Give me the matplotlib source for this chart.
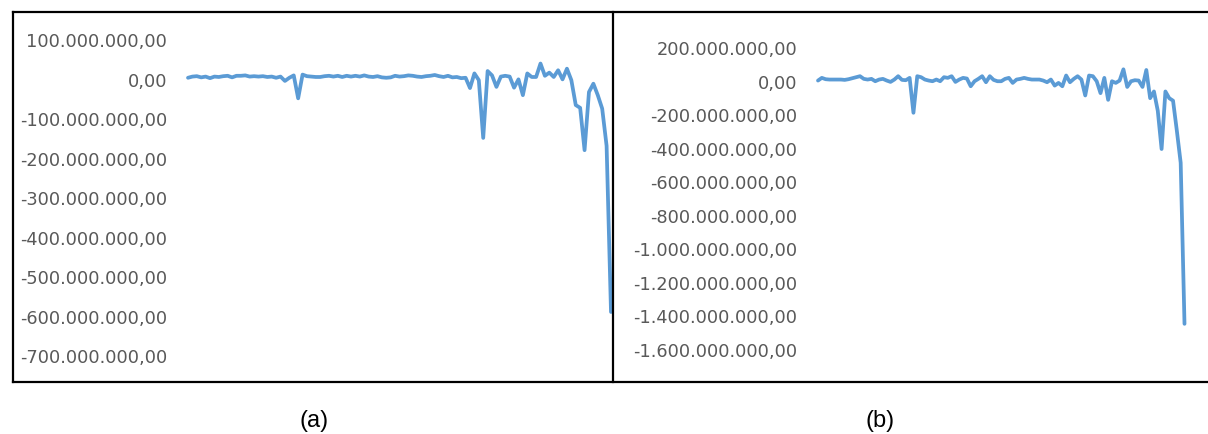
import matplotlib.pyplot as plt
from matplotlib.lines import Line2D
from matplotlib.ticker import FuncFormatter

# Series values in millions, one value per period
serie_a = [2, 5, 6, 3, 5, 1, 5, 4, 6, 7,
           3, 7, 7, 8, 5, 6, 5, 6, 4, 5,
           2, 5, -6, 2, 8, -50, 10, 6, 5, 4,
           4, 6, 7, 5, 7, 4, 7, 5, 7, 5,
           8, 5, 4, 6, 3, 2, 3, 7, 5, 6,
           8, 7, 5, 4, 6, 7, 9, 6, 4, 7,
           3, 4, 1, 2, -24, 13, -4, -150, 19, 8,
           -21, 5, 7, 5, -23, -2, -42, 13, 4, 4,
           38, 7, 15, 4, 21, -2, 25, -4, -67, -74,
           -181, -34, -13, -42, -76, -170, -590]

serie_b = [0, 16, 8, 6, 6, 6, 6, 4, 8, 14,
           20, 26, 10, 6, 10, -4, 6, 10, 0, -8,
           6, 26, 4, 2, 16, -192, 26, 20, 6, 0,
           -4, 6, -4, 20, 16, 26, -8, 6, 16, 12,
           -34, -4, 10, 26, -10, 26, 4, -4, -4, 10,
           16, -14, 6, 10, 16, 10, 6, 6, 6, 0,
           -10, 6, -30, -14, -34, 30, -10, 10, 26, 6,
           -89, 30, 26, -4, -75, 16, -115, -4, -14, 0,
           67, -38, -4, 2, 0, -38, 63, -105, -65, -180,
           -408, -65, -105, -120, -300, -490, -1450]

ticks_a = [100, 0, -100, -200, -300, -400, -500, -600, -700]
ticks_b = [200, 0, -200, -400, -600, -800, -1000, -1200, -1400, -1600]

W, H = 1208, 435
azul = '#5B9BD5'
cinza = '#595959'


def formata(v, pos):
    s = f"{v:,.2f}"
    return s.replace(',', 'X').replace('.', ',').replace('X', '.')


def painel(fig, box, valores, ticks):
    x0, x1, ytop, ybot = box
    ax = fig.add_axes([x0 / W, 1 - ybot / H, (x1 - x0) / W, (ybot - ytop) / H])
    ys = [v * 1e6 for v in valores]
    ax.plot(range(len(ys)), ys, color=azul, lw=2.7,
            solid_joinstyle='round', solid_capstyle='round', clip_on=False)
    ax.set_xlim(0, len(ys) - 1)
    ax.set_ylim(ticks[-1] * 1e6, ticks[0] * 1e6)
    ax.set_yticks([t * 1e6 for t in ticks])
    ax.yaxis.set_major_formatter(FuncFormatter(formata))
    ax.set_xticks([])
    ax.tick_params(axis='y', length=0, pad=15, labelsize=12.8, labelcolor=cinza)
    for s in ax.spines.values():
        s.set_visible(False)
    ax.patch.set_alpha(0)
    return ax


fig = plt.figure(figsize=(W / 100, H / 100), dpi=100)

painel(fig, (188, 611, 40, 356.5), serie_a, ticks_a)
painel(fig, (818, 1184.5, 48, 350), serie_b, ticks_b)

# moldura
def linha(xs, ys):
    fig.add_artist(Line2D([x / W for x in xs], [1 - y / H for y in ys],
                          color='black', lw=1.6, transform=fig.transFigure))

linha([13, 1208], [13, 13])
linha([13, 1208], [382.5, 382.5])
linha([13, 13], [13, 382.5])
linha([613, 613], [13, 382.5])

fig.text(314.5 / W, 1 - 421 / H, '(a)', ha='center', va='center',
         fontsize=17, family='Liberation Sans')
fig.text(880 / W, 1 - 421 / H, '(b)', ha='center', va='center',
         fontsize=17, family='Liberation Sans')

fig.savefig('out.png', dpi=100)
